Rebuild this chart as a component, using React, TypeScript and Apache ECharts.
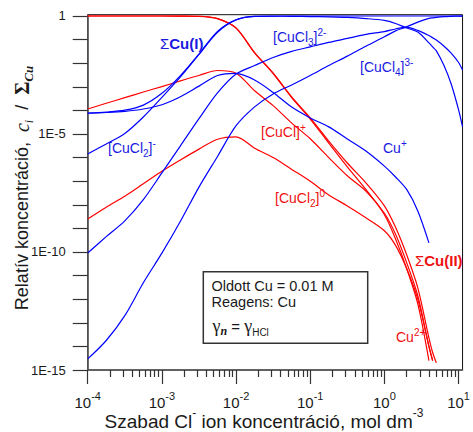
import React, { useEffect, useRef } from 'react';
import * as echarts from 'echarts';

// free chloride concentration (mol dm-3)
const xValues = [1e-4, 1.778e-4, 3.162e-4, 5.623e-4, 1e-3, 1.778e-3, 3.162e-3, 5.623e-3, 1e-2, 1.778e-2, 3.162e-2, 5.623e-2, 0.1, 0.1778, 0.3162, 0.5623, 1, 1.413, 1.995, 2.818, 3.981, 4.467, 5.012, 6.31, 7.943, 10, 11.3];

// Cu(II) species (relative)
const cu2 = [1, 1, 1, 1, 0.998, 0.994, 0.97, 0.77, 0.306, 0.0276, 3.66e-3, 3.48e-4, 4.27e-5, 4.1e-6, 4.07e-7, 4.47e-8, 3.8e-9, 3.55e-10, 2.0e-11, 6.3e-13, 2.5e-15, null, null, null, null, null, null];
const cuClPlus = [1.15e-4, 2.0e-4, 3.47e-4, 6.03e-4, 1.02e-3, 1.78e-3, 3.02e-3, 4.9e-3, 3.75e-3, 6.8e-4, 1.6e-4, 2.9e-5, 6.3e-6, 1.0e-6, 1.7e-7, 3.8e-8, 4.37e-9, 5.62e-10, 3.55e-11, 1.41e-12, 1.0e-14, 2.5e-15, null, null, null, null, null];
const cuCl2Zero = [2.51e-9, 7.94e-9, 2.29e-8, 7.76e-8, 2.63e-7, 7.94e-7, 2.29e-6, 6.0e-6, 7.6e-6, 2.5e-6, 1.0e-6, 3.16e-7, 1.0e-7, 2.63e-8, 8.91e-9, 2.82e-9, 7.94e-10, 1.91e-10, 2.0e-11, 1.0e-12, 1.0e-14, 2.5e-15, null, null, null, null, null];
const sumCuII = [1, 1, 1, 1, 0.999, 0.997, 0.975, 0.776, 0.31, 0.0282, 3.8e-3, 3.72e-4, 4.79e-5, 5.0e-6, 5.9e-7, 8.55e-8, 9.0e-9, 1.11e-9, 7.6e-11, 3.0e-12, 2.3e-14, 5.5e-15, 2.0e-15, null, null, null, null];

// Cu(I) species (relative)
const cuPlus = [7.59e-5, 8.13e-5, 9.12e-5, 1.15e-4, 1.74e-4, 3.8e-4, 1.07e-3, 3.02e-3, 3.72e-3, 1.95e-3, 5.75e-4, 1.38e-4, 4.79e-5, 2.0e-5, 6.17e-6, 1.91e-6, 4.37e-7, 1.51e-7, 4.47e-8, 5.5e-9, 2.45e-10, null, null, null, null, null, null];
const cuCl2Minus = [1.41e-6, 3.8e-6, 1.05e-5, 5.25e-5, 3.55e-4, 2.63e-3, 0.0234, 0.204, 0.684, 0.96, 0.978, 0.967, 0.948, 0.916, 0.868, 0.78, 0.65, 0.48, 0.31, 0.209, 0.0724, 0.049, 0.0331, 8.3e-3, 1.32e-3, 1.05e-4, 2.0e-5];
const cuCl3 = [9.12e-11, 4.47e-10, 2.09e-9, 1.66e-8, 2.24e-7, 3.16e-6, 4.47e-5, 5.5e-4, 3.47e-3, 7.94e-3, 0.0174, 0.0316, 0.049, 0.0759, 0.112, 0.166, 0.219, 0.282, 0.339, 0.245, 0.148, 0.12, 0.0955, 0.0537, 0.0269, 0.0107, 5.13e-3];
const cuCl4 = [2.95e-15, 1.78e-14, 2.0e-13, 5.0e-12, 8.91e-11, 2.0e-9, 5.62e-8, 1.12e-6, 2.24e-5, 1.41e-4, 5.0e-4, 1.2e-3, 3.02e-3, 7.94e-3, 0.02, 0.0525, 0.132, 0.234, 0.347, 0.55, 0.79, 0.84, 0.88, 0.94, 0.97, 0.99, 0.993];
const sumCuI = [7.73e-5, 8.5e-5, 1.02e-4, 1.68e-4, 5.3e-4, 3.0e-3, 0.0245, 0.224, 0.69, 0.972, 0.996, 0.9996, 1, 1, 1, 1, 1, 1, 1, 1, 1, 1, 1, 1, 1, 1, 1];

// axis ticks (decade exponents)
const xMajorExp = [-4, -3, -2, -1, 0, 1];
const yTickExp = [-15, -14, -13, -12, -11, -10, -9, -8, -7, -6, -5, -4, -3, -2, -1, 0];
const yLabelExp = [-15, -10, -5, 0];

const RED = '#ff0000';
const BLUE = '#0000ff';
const RED_T = '#ee1111';
const BLUE_T = '#1a1ae0';
const SANS = "'Liberation Sans', Arial, Helvetica, sans-serif";
const SERIF = "'Liberation Serif', 'Times New Roman', serif";
const INK = '#1a1a1a';

const X_MIN = 1e-4, X_MAX = 11.3, Y_MIN = 1e-15, Y_MAX = 1.135;

const seriesDefs = [
  { name: 'Cu2+', data: cu2, color: RED },
  { name: '[CuCl]+', data: cuClPlus, color: RED },
  { name: '[CuCl2]0', data: cuCl2Zero, color: RED },
  { name: 'ΣCu(II)', data: sumCuII, color: RED },
  { name: 'Cu+', data: cuPlus, color: BLUE },
  { name: '[CuCl2]-', data: cuCl2Minus, color: BLUE },
  { name: '[CuCl3]2-', data: cuCl3, color: BLUE },
  { name: '[CuCl4]3-', data: cuCl4, color: BLUE },
  { name: 'ΣCu(I)', data: sumCuI, color: BLUE },
];

function chemRich(color: string, size = 14) {
  return {
    m: { fontSize: size, fontFamily: SANS, fill: color, color, lineHeight: 20, verticalAlign: 'middle' },
    b: { fontSize: size + 1, fontFamily: SANS, fontWeight: 'bold', fill: color, color, lineHeight: 20, verticalAlign: 'middle' },
    g: { fontSize: size + 1, fontFamily: SANS, fill: color, color, lineHeight: 20, verticalAlign: 'middle' },
    sub: { fontSize: 10, fontFamily: SANS, fill: color, color, lineHeight: 10, verticalAlign: 'bottom' },
    sup: { fontSize: 10, fontFamily: SANS, fill: color, color, lineHeight: 10, verticalAlign: 'top' },
  };
}

function label(text: string, x: number, y: number, color: string) {
  return {
    type: 'text',
    x,
    y,
    silent: true,
    z: 50,
    style: { text, fill: color, fontSize: 14, fontFamily: SANS, align: 'left', verticalAlign: 'middle', rich: chemRich(color) },
  };
}

export default function App() {
  const ref = useRef<HTMLDivElement>(null);
  useEffect(() => {
    if (!ref.current) return;
    const chart = echarts.init(ref.current, null, { renderer: 'svg' });
    const xMinorExp: number[] = [];
    for (let d = -4; d <= 1; d++) {
      for (let m = 2; m <= 9; m++) {
        const v = d + Math.log10(m);
        if (v <= Math.log10(X_MAX)) xMinorExp.push(v);
      }
    }
    const lxMax = Math.log10(X_MAX);
    const lyMax = Math.log10(Y_MAX);

    const option: any = {
      animation: false,
      backgroundColor: '#ffffff',
      grid: { left: 87.7, right: 6.3, top: 14.7, bottom: 62, show: true, borderColor: '#111', borderWidth: 1, containLabel: false },
      xAxis: [
        {
          type: 'log', logBase: 10, min: X_MIN, max: X_MAX, position: 'bottom',
          axisLine: { show: true, onZero: false, lineStyle: { color: '#555', width: 1.6 } },
          axisTick: { show: false }, axisLabel: { show: false }, splitLine: { show: false },
        },
        {
          type: 'value', min: -4, max: lxMax, position: 'bottom',
          axisLine: { show: false, onZero: false }, splitLine: { show: false },
          axisTick: { show: true, customValues: xMajorExp, length: 14, lineStyle: { color: '#333', width: 1.2 } },
          axisLabel: {
            show: true, customValues: xMajorExp, margin: 20,
            formatter: (v: number) => `{b|10}{s|${Math.round(v)}}`,
            rich: {
              b: { fontSize: 15, fontFamily: SANS, color: INK, lineHeight: 20, verticalAlign: 'bottom' },
              s: { fontSize: 11, fontFamily: SANS, color: INK, lineHeight: 12, verticalAlign: 'top' },
            },
          },
        },
        {
          type: 'value', min: -4, max: lxMax, position: 'bottom',
          axisLine: { show: false, onZero: false }, splitLine: { show: false }, axisLabel: { show: false },
          axisTick: { show: true, customValues: xMinorExp, length: 7, lineStyle: { color: '#333', width: 1.2 } },
        },
      ],
      yAxis: [
        {
          type: 'log', logBase: 10, min: Y_MIN, max: Y_MAX, position: 'left',
          axisLine: { show: true, onZero: false, lineStyle: { color: '#555', width: 1.6 } },
          axisTick: { show: false }, axisLabel: { show: false }, splitLine: { show: false },
        },
        {
          type: 'value', min: -15, max: lyMax, position: 'left',
          axisLine: { show: false, onZero: false }, splitLine: { show: false },
          axisTick: { show: true, customValues: yTickExp, length: 15, lineStyle: { color: '#333', width: 1.2 } },
          axisLabel: {
            show: true, customValues: yLabelExp, margin: 22,
            formatter: (v: number) => (Math.round(v) === 0 ? '1' : `1E${Math.round(v)}`),
            fontSize: 13, fontFamily: SANS, color: INK,
          },
        },
      ],
      series: seriesDefs.map((s, k) => ({
        type: 'line',
        name: s.name,
        xAxisIndex: 0,
        yAxisIndex: 0,
        data: xValues.map((x, i) => [x, s.data[i]]).filter((p) => p[1] !== null),
        showSymbol: false,
        symbol: 'none',
        smooth: 0.3,
        silent: true,
        z: 2 + k,
        lineStyle: { color: s.color, width: 1.2 },
        itemStyle: { color: s.color },
      })),
      graphic: [
        // y-axis title
        {
          type: 'text', x: 22, y: 188, rotation: Math.PI / 2, silent: true,
          style: {
            text: '{a|Relatív koncentráció,  }{i|c}{is|i}{a|  /  }{sg|Σ}{cs|Cu}',
            align: 'center', verticalAlign: 'middle', fill: INK,
            rich: {
              a: { fontSize: 18, fontFamily: SANS, fill: INK, lineHeight: 26, verticalAlign: 'middle' },
              i: { fontSize: 20, fontFamily: SERIF, fontStyle: 'italic', fill: INK, lineHeight: 26, verticalAlign: 'middle' },
              is: { fontSize: 12, fontFamily: SERIF, fontStyle: 'italic', fill: INK, lineHeight: 12, verticalAlign: 'bottom' },
              sg: { fontSize: 20, fontFamily: SERIF, fontWeight: 'bold', fill: INK, lineHeight: 26, verticalAlign: 'middle' },
              cs: { fontSize: 13, fontFamily: SERIF, fontStyle: 'italic', fontWeight: 'bold', fill: INK, lineHeight: 12, verticalAlign: 'bottom' },
            },
          },
        },
        // x-axis title
        {
          type: 'text', x: 264, y: 419, silent: true,
          style: {
            text: '{t|Szabad Cl}{s|-}{t| ion koncentráció, mol dm}{s|-3}',
            align: 'center', verticalAlign: 'middle', fill: INK,
            rich: {
              t: { fontSize: 19, fontFamily: SANS, fill: INK, lineHeight: 24, verticalAlign: 'bottom' },
              s: { fontSize: 12, fontFamily: SANS, fill: INK, lineHeight: 13, verticalAlign: 'top' },
            },
          },
        },
        // info box
        {
          type: 'rect', silent: true, z: 40,
          shape: { x: 203.3, y: 271.7, width: 164.4, height: 71.6 },
          style: { fill: 'rgba(255,255,255,0)', stroke: '#333', lineWidth: 1.5 },
        },
        {
          type: 'text', x: 211.5, y: 285.5, silent: true, z: 41,
          style: { text: 'Oldott Cu = 0.01 M', fontSize: 14.5, fontFamily: SANS, fill: INK, align: 'left', verticalAlign: 'middle' },
        },
        {
          type: 'text', x: 211.5, y: 301.5, silent: true, z: 41,
          style: { text: 'Reagens: Cu', fontSize: 14.5, fontFamily: SANS, fill: INK, align: 'left', verticalAlign: 'middle' },
        },
        {
          type: 'text', x: 212.5, y: 326, silent: true, z: 41,
          style: {
            text: '{g|γ}{n|n}{e| = }{g|γ}{h|HCl}',
            align: 'left', verticalAlign: 'middle', fill: INK,
            rich: {
              g: { fontSize: 18, fontFamily: SERIF, fill: INK, lineHeight: 22, verticalAlign: 'middle' },
              n: { fontSize: 12, fontFamily: SERIF, fontStyle: 'italic', fontWeight: 'bold', fill: INK, lineHeight: 12, verticalAlign: 'bottom' },
              e: { fontSize: 15, fontFamily: SANS, fill: INK, lineHeight: 22, verticalAlign: 'middle' },
              h: { fontSize: 10, fontFamily: SANS, fill: INK, lineHeight: 10, verticalAlign: 'bottom' },
            },
          },
        },
        // species labels
        label('{g|Σ}{b|Cu(I)}', 160, 43, BLUE_T),
        label('{m|[CuCl}{sub|3}{m|]}{sup|2-}', 273, 37, BLUE_T),
        label('{m|[CuCl}{sub|4}{m|]}{sup|3-}', 360, 67, BLUE_T),
        label('{m|[CuCl}{sub|2}{m|]}{sup|-}', 108, 148, BLUE_T),
        label('{m|Cu}{sup|+}', 383, 148, BLUE_T),
        label('{m|[CuCl]}{sup|+}', 261, 132, RED_T),
        label('{m|[CuCl}{sub|2}{m|]}{sup|0}', 275, 198, RED_T),
        label('{g|Σ}{b|Cu(II)}', 415, 260, RED_T),
        label('{m|Cu}{sup|2+}', 396, 337, RED_T),
      ],
    };
    chart.setOption(option);
    return () => chart.dispose();
  }, []);
  return <div ref={ref} style={{ position: 'fixed', left: 0, top: 0, width: 473, height: 432, background: '#fff' }} />;
}
